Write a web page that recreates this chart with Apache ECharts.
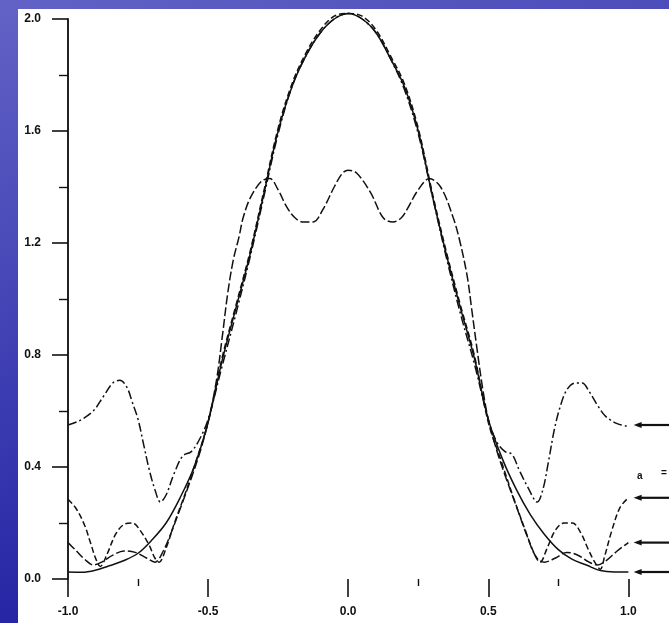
<!DOCTYPE html>
<html><head><meta charset="utf-8">
<script src="https://cdn.jsdelivr.net/npm/echarts@6/dist/echarts.min.js"></script>
<style>html,body{margin:0;padding:0;overflow:hidden;}#c{width:669px;height:623px;}</style>
</head><body><div id="c"></div>
<script>
// ---- data ----
const yTicks = [0.0, 0.4, 0.8, 1.2, 1.6, 2.0];
const xTicks = [-1.0, -0.5, 0.0, 0.5, 1.0];
const xMinorTicks = [-0.75, 0.25, 0.75];

// curve A: dash-dot, large side lobes
const xA = [-1.0,-0.96,-0.91,-0.875,-0.84,-0.815,-0.79,-0.77,-0.75,-0.73,-0.71,-0.69,-0.67,-0.65,-0.62,-0.59,-0.56,-0.53,-0.5,-0.45,-0.4,-0.35,-0.3,-0.25,-0.2,-0.15,-0.1,-0.05,0,0.05,0.1,0.15,0.2,0.25,0.3,0.35,0.4,0.45,0.5,0.53,0.56,0.585,0.61,0.64,0.675,0.695,0.715,0.735,0.755,0.78,0.81,0.835,0.86,0.89,0.92,0.96,1.0];
const yA = [0.55,0.565,0.60,0.65,0.70,0.71,0.685,0.63,0.57,0.48,0.39,0.32,0.275,0.30,0.38,0.44,0.455,0.50,0.57,0.76,0.95,1.15,1.37,1.59,1.76,1.87,1.95,2.0,2.02,2.0,1.95,1.86,1.75,1.59,1.37,1.15,0.95,0.77,0.57,0.49,0.455,0.445,0.39,0.33,0.275,0.32,0.42,0.53,0.61,0.675,0.70,0.70,0.67,0.62,0.58,0.555,0.545];

// curve B: dashed, central ripple
const xB = [-1.0,-0.97,-0.94,-0.91,-0.88,-0.84,-0.8,-0.76,-0.72,-0.69,-0.66,-0.63,-0.6,-0.56,-0.53,-0.5,-0.47,-0.45,-0.43,-0.41,-0.39,-0.375,-0.35,-0.31,-0.28,-0.25,-0.22,-0.19,-0.16,-0.125,-0.09,-0.05,-0.02,0,0.03,0.08,0.125,0.16,0.19,0.21,0.25,0.29,0.33,0.375,0.4,0.425,0.44,0.46,0.48,0.5,0.53,0.56,0.6,0.64,0.67,0.7,0.74,0.78,0.82,0.86,0.89,0.92,0.96,1.0];
const yB = [0.13,0.10,0.07,0.05,0.06,0.085,0.10,0.095,0.075,0.06,0.10,0.17,0.25,0.36,0.45,0.56,0.71,0.86,1.02,1.14,1.22,1.29,1.36,1.42,1.43,1.39,1.33,1.29,1.275,1.275,1.32,1.40,1.45,1.46,1.45,1.38,1.29,1.275,1.29,1.32,1.39,1.43,1.40,1.29,1.20,1.08,0.97,0.82,0.68,0.57,0.46,0.37,0.26,0.15,0.08,0.06,0.075,0.095,0.085,0.06,0.05,0.065,0.10,0.13];

// curve C: solid, smooth main lobe
const xC = [-1.0,-0.95,-0.9,-0.85,-0.8,-0.75,-0.7,-0.65,-0.6,-0.55,-0.5,-0.45,-0.4,-0.35,-0.3,-0.25,-0.2,-0.15,-0.1,-0.05,0,0.05,0.1,0.15,0.2,0.25,0.3,0.35,0.4,0.45,0.5,0.55,0.6,0.65,0.7,0.75,0.8,0.85,0.9,0.95,1.0];
const yC = [0.025,0.024,0.032,0.048,0.066,0.092,0.14,0.20,0.29,0.40,0.56,0.78,0.97,1.16,1.38,1.60,1.76,1.87,1.95,2.0,2.02,2.0,1.95,1.86,1.76,1.60,1.37,1.16,0.97,0.79,0.57,0.43,0.32,0.23,0.16,0.105,0.07,0.05,0.03,0.025,0.025];

// curve D: dashed, 0.2 side lobes
const xD = [-1.0,-0.97,-0.94,-0.92,-0.9,-0.885,-0.86,-0.83,-0.8,-0.77,-0.74,-0.71,-0.69,-0.675,-0.65,-0.62,-0.58,-0.55,-0.5,-0.45,-0.4,-0.35,-0.3,-0.25,-0.2,-0.15,-0.1,-0.05,0,0.05,0.1,0.15,0.2,0.25,0.3,0.35,0.4,0.45,0.5,0.55,0.59,0.63,0.66,0.685,0.71,0.74,0.77,0.8,0.83,0.855,0.88,0.9,0.915,0.94,0.97,1.0];
const yD = [0.285,0.25,0.19,0.13,0.07,0.045,0.09,0.16,0.195,0.20,0.17,0.12,0.075,0.06,0.11,0.20,0.31,0.40,0.56,0.79,0.98,1.17,1.39,1.61,1.77,1.88,1.96,2.01,2.02,2.01,1.96,1.87,1.77,1.61,1.38,1.17,0.98,0.80,0.56,0.41,0.29,0.18,0.10,0.06,0.11,0.175,0.20,0.20,0.165,0.11,0.06,0.035,0.08,0.17,0.255,0.29];

// right-edge marker levels (arrow start, line end)
const markerLevels = [0.55, 0.29, 0.13, 0.025];
const markerX = [1.033, 1.145];

function pairs(xs, ys){ return xs.map((x,i)=>[x, ys[i]]); }

const chart = echarts.init(document.getElementById('c'), null, {renderer:'canvas'});
const ink = '#111';
const lineBase = {type:'line', showSymbol:false, symbol:'none', smooth:0.35, clip:false, silent:true};

const series = [
  Object.assign({}, lineBase, {name:'A', data:pairs(xA,yA), lineStyle:{color:ink, width:1.5, type:[9,3,2,3]}}),
  Object.assign({}, lineBase, {name:'B', data:pairs(xB,yB), lineStyle:{color:ink, width:1.5, type:[9,3]}}),
  Object.assign({}, lineBase, {name:'C', data:pairs(xC,yC), lineStyle:{color:ink, width:1.5, type:'solid'}}),
  Object.assign({}, lineBase, {name:'D', data:pairs(xD,yD), lineStyle:{color:ink, width:1.5, type:[6,3]}})
];
markerLevels.forEach(v => {
  series.push({type:'line', silent:true, smooth:false, showSymbol:true,
    data:[{value:[markerX[0], v], symbol:'triangle', symbolRotate:90, symbolSize:[6,8]},
          {value:[markerX[1], v], symbol:'none'}],
    itemStyle:{color:ink}, lineStyle:{color:ink, width:2.2, type:'solid'}});
});

const fmt = v => v.toFixed(1);
const font = 'Liberation Sans, Arial';
chart.setOption({
  animation:false,
  backgroundColor:{type:'linear', x:0, y:0, x2:0.3, y2:1, colorStops:[{offset:0,color:'#6262c6'},{offset:1,color:'#2020a2'}]},
  graphic:[
    {type:'rect', left:18, top:9, shape:{width:651, height:614}, style:{fill:'#ffffff'}, z:-10},
    {type:'text', left:637, top:471, style:{text:'a', font:'bold 10px Liberation Sans, Arial', fill:ink}},
    {type:'text', left:661, top:468, style:{text:'=', font:'bold 10px Liberation Sans, Arial', fill:ink}}
  ],
  grid:{left:68, right:0, top:19, bottom:44, containLabel:false},
  xAxis:[
    {type:'value', min:-1.0, max:1.145, interval:0.5,
     axisLine:{show:false, onZero:false}, splitLine:{show:false},
     axisTick:{show:true, length:18, lineStyle:{color:ink, width:1.6}, customValues:xTicks},
     axisLabel:{margin:27, color:ink, fontSize:12, fontWeight:'bold', fontFamily:font, formatter:fmt, customValues:xTicks}},
    {type:'value', min:-1.0, max:1.145, position:'bottom',
     axisLine:{show:false, onZero:false}, splitLine:{show:false}, axisLabel:{show:false},
     axisTick:{show:true, length:7, lineStyle:{color:ink, width:1.4}, customValues:xMinorTicks}}
  ],
  yAxis:{type:'value', min:0, max:2.0, interval:0.4,
     axisLine:{show:true, onZero:false, lineStyle:{color:'#222', width:2}},
     splitLine:{show:false},
     axisTick:{show:true, length:16, lineStyle:{color:ink, width:1.6}},
     minorTick:{show:true, splitNumber:2, length:9, lineStyle:{color:ink, width:1.4}},
     axisLabel:{margin:27, color:ink, fontSize:12, fontWeight:'bold', fontFamily:font, formatter:fmt}},
  series:series
});
</script></body></html>
